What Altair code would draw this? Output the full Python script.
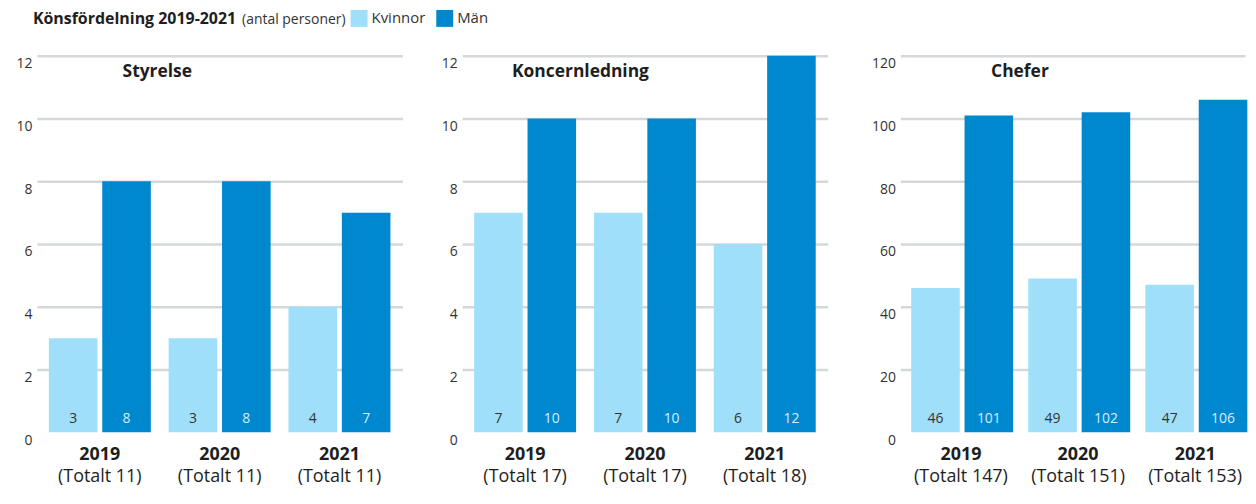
import altair as alt
import pandas as pd

years = ["2019", "2020", "2021"]
genders = ["Kvinnor", "Män"]
styrelse_kvinnor = [3, 3, 4]
styrelse_man = [8, 8, 7]
koncern_kvinnor = [7, 7, 6]
koncern_man = [10, 10, 12]
chefer_kvinnor = [46, 49, 47]
chefer_man = [101, 102, 106]
panel_titles = ["Styrelse", "Koncernledning", "Chefer"]
heading = "Könsfördelning 2019-2021"
heading_sub = "(antal personer)"
colors = ["#a0dff9", "#0088cf"]

FONT = "Open Sans"
H = 378


def long_df(kv, ma):
    rows = []
    for y, k, m in zip(years, kv, ma):
        tot = f"(Totalt {k + m})"
        rows.append({"year": y, "kon": "Kvinnor", "antal": k, "total": tot})
        rows.append({"year": y, "kon": "Män", "antal": m, "total": tot})
    return pd.DataFrame(rows)


def panel(df, title, ymax, step, width, title_x, xscale, extent, header=False):
    base = alt.Chart(df)
    xenc = alt.X(
        "year:N", title=None, sort=years, scale=xscale,
        axis=alt.Axis(labelFont=FONT, labelFontWeight="bold", labelFontSize=18,
                      labelColor="#1e1e1e", labelAngle=0, labelPadding=22,
                      labelBaseline="middle", domain=False, ticks=False, tickSize=0),
    )
    yenc = alt.Y(
        "antal:Q", title=None,
        scale=alt.Scale(domain=[0, ymax], nice=False, zero=True),
        axis=alt.Axis(values=list(range(0, ymax + 1, step)), grid=True,
                      gridColor="#d3d8d9", gridWidth=2.5,
                      gridOpacity={"condition": {"test": "datum.value === 0", "value": 0}, "value": 1},
                      domain=False, ticks=False, tickSize=0,
                      labelFont=FONT, labelFontSize=14, labelColor="#333333",
                      labelPadding=5, labelOffset=8, minExtent=extent),
    )
    xoff = alt.XOffset("kon:N", sort=genders, scale=alt.Scale(paddingInner=0.09))
    bars = base.mark_bar().encode(
        x=xenc, xOffset=xoff, y=yenc,
        color=alt.Color(
            "kon:N", sort=genders,
            scale=alt.Scale(domain=genders, range=colors),
            legend=alt.Legend(orient="none", legendX=315, legendY=-46, direction="horizontal",
                              title=None, symbolType="square", symbolSize=289,
                              symbolStrokeWidth=0, labelFont=FONT, labelFontSize=15,
                              labelColor="#333333", columnPadding=10, labelOffset=4),
        ),
    )
    vals = base.mark_text(dy=-13, fontSize=14, font=FONT, baseline="middle").encode(
        x=alt.X("year:N", sort=years),
        xOffset=alt.XOffset("kon:N", sort=genders),
        y=alt.datum(0),
        text="antal:Q",
        color=alt.condition("datum.kon === 'Män'", alt.value("#d4eefb"), alt.value("#333333")),
    )
    totals = base.transform_filter("datum.kon === 'Kvinnor'").mark_text(
        dy=45, fontSize=18, font=FONT, color="#1e1e1e", baseline="middle"
    ).encode(x=alt.X("year:N", sort=years), y=alt.datum(0), text="total:N")
    ttl = alt.Chart(pd.DataFrame({"t": [title]})).mark_text(
        align="left", baseline="middle", dy=16, fontSize=17.5, fontWeight="bold",
        font=FONT, color="#1e1e1e"
    ).encode(x=alt.value(title_x), y=alt.datum(ymax), text="t:N")
    layers = [bars, vals, totals, ttl]
    if header:
        h1 = alt.Chart(pd.DataFrame({"t": [heading]})).mark_text(
            align="left", baseline="alphabetic", dy=-32, fontSize=16, fontWeight="bold",
            font=FONT, color="#1e1e1e"
        ).encode(x=alt.value(-4), y=alt.datum(ymax), text="t:N")
        h2 = alt.Chart(pd.DataFrame({"t": [heading_sub]})).mark_text(
            align="left", baseline="alphabetic", dy=-32, fontSize=14,
            font=FONT, color="#333333"
        ).encode(x=alt.value(206), y=alt.datum(ymax), text="t:N")
        layers += [h1, h2]
    return alt.layer(*layers).properties(width=width, height=H)


xs_std = alt.Scale(paddingInner=0.149, paddingOuter=0.1)
xs_last = alt.Scale(paddingInner=0.149, paddingOuter=0.046, align=1)

p1 = panel(long_df(styrelse_kvinnor, styrelse_man), panel_titles[0], 12, 2, 367, 86, xs_std, 29, header=True)
p2 = panel(long_df(koncern_kvinnor, koncern_man), panel_titles[1], 12, 2, 367, 50, xs_std, 20)
p3 = panel(long_df(chefer_kvinnor, chefer_man), panel_titles[2], 120, 10, 346, 91, xs_last, 35)

chart = alt.hconcat(p1, p2, p3, spacing=38).properties(
    padding={"left": 0, "top": 1, "right": 0, "bottom": 1}
).configure(font=FONT).configure_view(stroke=None)

chart.save("out.html", embed_options={"renderer": "svg", "actions": False})
